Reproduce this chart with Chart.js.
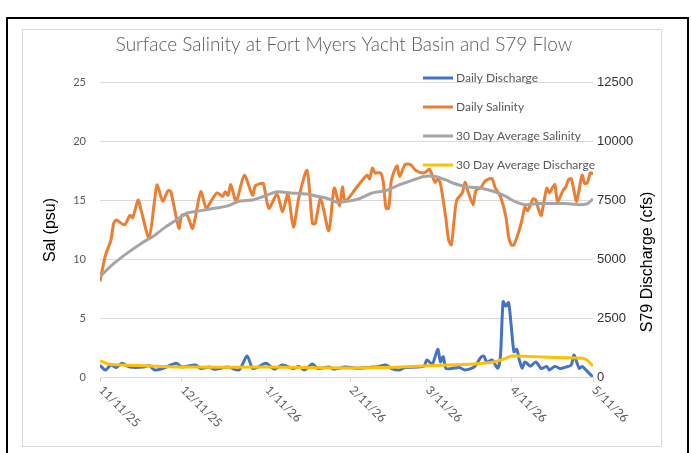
<!DOCTYPE html>
<html>
<head>
<meta charset="utf-8">
<script src="https://cdn.jsdelivr.net/npm/chart.js@4.4.1/dist/chart.umd.min.js"></script>
<style>
  html, body { margin: 0; padding: 0; background: #fff; }
</style>
</head>
<body>
<canvas id="flowChart" width="691" height="453"></canvas>
<script>
  // day offsets from 11/11/25
  const tickDays = [0, 30, 61, 92, 120, 151, 181];
  const tickLabels = ['11/11/25', '12/11/25', '1/11/26', '2/11/26', '3/11/26', '4/11/26', '5/11/26'];

  const salinityDays = [0, 2, 4, 5, 6, 9, 11, 12, 14, 15, 18, 20, 21, 23, 25, 26, 29, 30, 32, 34, 37, 39, 41, 43, 45, 46, 47, 48, 50, 53,
    56, 57, 59, 60, 62, 65, 67, 69, 71, 73, 76, 78, 79, 81, 84, 86, 88, 89, 90, 94, 98, 99, 100, 101, 103, 104, 105, 106, 107, 109,
    110, 112, 114, 116, 119, 121, 123, 124, 125, 127, 128, 129, 130, 131, 133, 134, 135, 137, 138, 140, 141, 142, 144, 145, 147, 149,
    150, 151, 152, 154, 155, 156, 157, 159, 160, 161, 162, 164, 165, 166, 167, 168, 170, 171, 172, 173, 174, 175, 177, 178, 179, 180, 181];
  const salinityValues = [8.1, 10.3, 11.6, 13.0, 13.3, 12.9, 13.7, 13.5, 15.0, 14.2, 11.8, 14.9, 16.3, 14.9, 15.8, 15.7, 12.6, 13.7, 13.7, 12.6,
    15.7, 14.3, 15.0, 15.6, 15.3, 15.7, 15.4, 16.3, 14.9, 17.1, 15.4, 16.2, 16.4, 16.4, 14.3, 15.5, 14.0, 15.5, 12.7, 15.2, 17.5, 13.0, 13.0,
    15.1, 12.4, 16.0, 14.5, 16.1, 14.9, 16.0, 17.1, 16.8, 17.7, 17.3, 17.3, 16.5, 14.3, 14.3, 16.7, 17.9, 17.0, 18.0, 18.0, 17.5, 17.3, 17.6,
    16.5, 16.8, 16.4, 13.4, 11.6, 11.2, 13.3, 15.0, 15.6, 16.5, 15.8, 14.6, 15.8, 16.1, 16.5, 16.7, 16.8, 16.1, 15.3, 13.6, 11.9, 11.2, 11.2,
    12.5, 13.4, 14.4, 14.1, 15.1, 15.0, 14.2, 13.7, 16.0, 15.6, 16.0, 16.3, 14.9, 15.8, 16.1, 16.7, 16.8, 15.8, 14.9, 17.1, 16.4, 16.5, 17.3, 17.2];

  const salAvgDays = [0, 5, 10, 15, 20, 24, 28, 32, 37, 42, 47, 51, 56, 60, 65, 70, 76, 80, 84, 87, 91, 95, 100, 105, 110, 115, 119, 123,
    127, 130, 135, 140, 145, 149, 152, 156, 161, 166, 171, 176, 179, 181];
  const salAvgValues = [8.5, 9.6, 10.5, 11.3, 12.0, 12.7, 13.3, 13.9, 14.1, 14.3, 14.5, 14.9, 15.0, 15.3, 15.7, 15.6, 15.5, 15.3, 15.1, 14.8,
    14.9, 15.1, 15.6, 15.8, 16.3, 16.7, 17.0, 17.0, 16.7, 16.4, 16.1, 16.0, 15.7, 15.3, 14.9, 14.6, 14.7, 14.7, 14.7, 14.6, 14.7, 15.1];

  const dischargeDays = [0, 2, 4, 6, 8, 11, 16, 18, 20, 23, 28, 30, 35, 37, 40, 42, 47, 51, 54, 56, 58, 61, 64, 67, 71, 73, 75, 78, 80, 84,
    86, 90, 95, 100, 102, 105, 107, 110, 112, 116, 119, 120, 122, 124, 125, 126, 127, 129, 132, 134, 137, 138, 140, 141, 142, 144, 146,
    147, 148, 149, 150, 151, 152, 153, 154, 155, 156, 158, 160, 162, 164, 165, 167, 169, 171, 173, 174, 175, 176, 177, 179, 181];
  const dischargeValues = [508, 297, 508, 400, 580, 420, 420, 480, 297, 360, 580, 420, 508, 360, 420, 330, 420, 297, 890, 360, 420, 580, 330,
    508, 360, 450, 297, 550, 360, 420, 330, 420, 370, 420, 440, 508, 360, 297, 400, 420, 466, 720, 550, 1170, 640, 860, 360, 360, 400, 300,
    400, 508, 860, 880, 640, 720, 370, 860, 3190, 3000, 3150, 2130, 1070, 1170, 700, 370, 640, 460, 640, 360, 450, 300, 450, 360, 420, 508,
    930, 640, 360, 450, 225, 0];

  const disAvgDays = [0, 3, 8, 16, 32, 60, 90, 102, 114, 127, 137, 145, 149, 151, 160, 170, 177, 179, 181];
  const disAvgValues = [690, 550, 508, 480, 420, 420, 380, 400, 440, 508, 550, 650, 790, 890, 860, 820, 790, 700, 466];

  function pairs(days, values) {
    return days.map((d, i) => ({ x: d, y: values[i] }));
  }

  const framePlugin = {
    id: 'frame',
    beforeDraw(chart) {
      const c = chart.ctx;
      c.save();
      c.fillStyle = '#ffffff';
      c.fillRect(0, 0, chart.width, chart.height);
      c.strokeStyle = '#000000';
      c.lineWidth = 2;
      c.strokeRect(7, 18, 681, 460);
      c.strokeStyle = '#d9d9d9';
      c.lineWidth = 1;
      c.strokeRect(22.5, 29.5, 639, 417);
      c.restore();
    },
    afterDraw(chart) {
      const c = chart.ctx;
      const xs = chart.scales.x;
      c.save();
      // title
      c.fillStyle = '#595959';
      c.font = '300 19px Lato';
      c.textAlign = 'center';
      c.textBaseline = 'middle';
      c.fillText('Surface Salinity at Fort Myers Yacht Basin and S79 Flow', 344, 45);

      // date labels, slanted down to the right
      c.font = '12px Lato';
      c.textAlign = 'left';
      tickDays.forEach((d, i) => {
        const px = xs.getPixelForValue(d);
        c.save();
        c.translate(px + 1, 388);
        c.rotate(Math.PI / 4);
        c.fillText(tickLabels[i], 0, 0);
        c.restore();
      });

      // axis titles
      c.fillStyle = '#000000';
      c.font = '16px "Liberation Sans"';
      c.textAlign = 'center';
      c.save();
      c.translate(51, 230);
      c.rotate(-Math.PI / 2);
      c.fillText('Sal (psu)', 0, 0);
      c.restore();
      c.save();
      c.translate(648, 262);
      c.rotate(-Math.PI / 2);
      c.fillText('S79 Discharge (cfs)', 0, 0);
      c.restore();

      // legend
      c.font = '12px Lato';
      c.textAlign = 'left';
      chart.data.datasets.forEach((ds, i) => {
        const y = 78 + i * 29;
        c.strokeStyle = ds.borderColor;
        c.lineWidth = 3;
        c.beginPath();
        c.moveTo(423, y);
        c.lineTo(453, y);
        c.stroke();
        c.fillStyle = '#595959';
        c.fillText(ds.label, 456, y);
      });
      c.restore();
    }
  };

  const ctx = document.getElementById('flowChart').getContext('2d');

  const flowChart = new Chart(ctx, {
    type: 'line',
    data: {
      datasets: [{
        label: 'Daily Discharge',
        data: pairs(dischargeDays, dischargeValues),
        yAxisID: 'y1',
        borderColor: '#4472c4',
        order: 4
      }, {
        label: 'Daily Salinity',
        data: pairs(salinityDays, salinityValues),
        yAxisID: 'y',
        borderColor: '#ed7d31',
        order: 3
      }, {
        label: '30 Day Average Salinity',
        data: pairs(salAvgDays, salAvgValues),
        yAxisID: 'y',
        borderColor: '#a5a5a5',
        order: 2
      }, {
        label: '30 Day Average Discharge',
        data: pairs(disAvgDays, disAvgValues),
        yAxisID: 'y1',
        borderColor: '#ffc000',
        order: 1
      }]
    },
    options: {
      responsive: false,
      animation: false,
      layout: { padding: { top: 82, left: 0, right: 0, bottom: 0 } },
      elements: {
        line: { borderWidth: 3, tension: 0.25, fill: false },
        point: { radius: 0 }
      },
      plugins: {
        legend: { display: false },
        title: { display: false },
        tooltip: { enabled: false }
      },
      scales: {
        x: {
          type: 'linear',
          min: 0,
          max: 181,
          afterBuildTicks: (s) => { s.ticks = tickDays.map(v => ({ value: v })); },
          afterFit: (s) => { s.height = 76; s.paddingLeft = 0; s.paddingRight = 0; },
          ticks: { display: false },
          grid: { drawOnChartArea: false, drawTicks: true, tickLength: 5, color: '#d9d9d9' },
          border: { color: '#d9d9d9' }
        },
        y: {
          position: 'left',
          min: 0,
          max: 25,
          ticks: { stepSize: 5, padding: 14, color: '#595959', font: { family: 'Lato', size: 11 } },
          afterFit: (s) => { s.width = 100; s.paddingTop = 0; s.paddingBottom = 0; },
          grid: { color: '#d9d9d9', drawTicks: false },
          border: { display: false }
        },
        y1: {
          position: 'right',
          min: 0,
          max: 12500,
          ticks: {
            stepSize: 2500,
            padding: 4,
            color: '#333333',
            font: { family: 'Liberation Sans', size: 13 },
            callback: (v) => String(v)
          },
          afterFit: (s) => { s.width = 98; s.paddingTop = 0; s.paddingBottom = 0; },
          grid: { drawOnChartArea: false, drawTicks: false },
          border: { display: false }
        }
      }
    },
    plugins: [framePlugin]
  });
</script>
</body>
</html>
